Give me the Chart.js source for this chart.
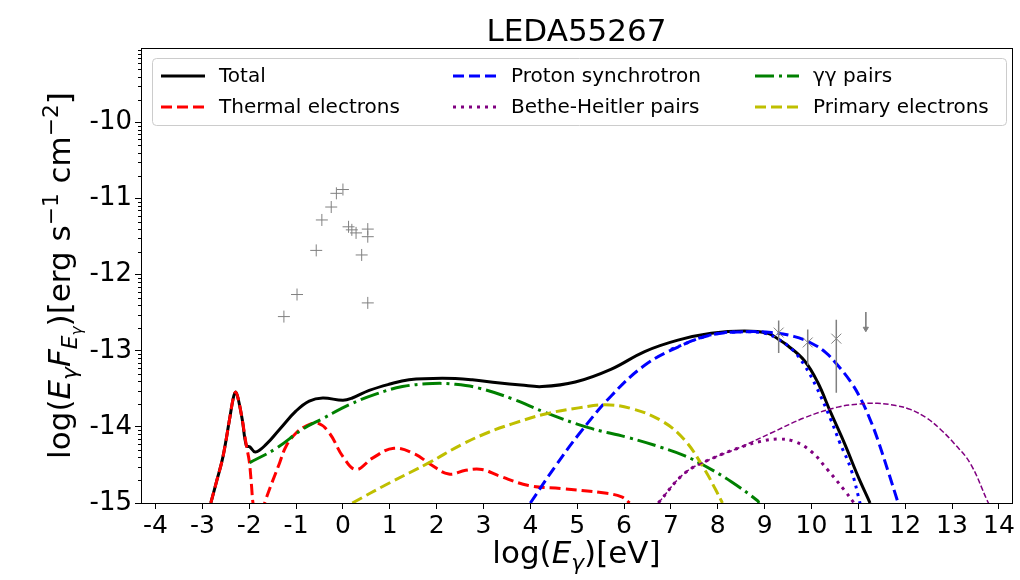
<!DOCTYPE html>
<html>
<head>
<meta charset="utf-8">
<script src="https://cdn.jsdelivr.net/npm/chart.js@4.4.1/dist/chart.umd.min.js"></script>
<style>
  html, body { margin: 0; padding: 0; background: #fff; }
  #wrap { width: 1020px; height: 580px; }
</style>
</head>
<body>
<div id="wrap"><canvas id="sed" width="1020" height="580"></canvas></div>
<script>
// axis ticks
const xTicks = [-4, -3, -2, -1, 0, 1, 2, 3, 4, 5, 6, 7, 8, 9, 10, 11, 12, 13, 14];
const yTicks = [-15, -14, -13, -12, -11, -10];

// model curves, [log E, log EF]
const total = [[-2.82,-15],[-2.69,-14.7],[-2.56,-14.39],[-2.42,-13.9],[-2.34,-13.62],[-2.29,-13.54],[-2.24,-13.62],[-2.15,-13.9],[-2.06,-14.25],[-1.99,-14.26],[-1.87,-14.33],[-1.64,-14.23],[-1.35,-14.03],[-1.0,-13.79],[-0.72,-13.66],[-0.43,-13.62],[0.0,-13.65],[0.2,-13.62],[0.56,-13.52],[0.98,-13.44],[1.41,-13.38],[2.12,-13.36],[2.76,-13.38],[3.3,-13.42],[3.8,-13.45],[4.25,-13.47],[4.96,-13.41],[5.73,-13.24],[6.44,-13.01],[7.15,-12.86],[7.86,-12.77],[8.57,-12.74],[9.07,-12.77],[9.3,-12.85],[9.49,-12.93],[9.85,-13.13],[10.13,-13.41],[10.41,-13.81],[10.70,-14.21],[10.98,-14.63],[11.25,-15.0]];
const thermal = [[-2.82,-15],[-2.69,-14.7],[-2.56,-14.39],[-2.42,-13.9],[-2.34,-13.62],[-2.29,-13.54],[-2.24,-13.62],[-2.15,-13.9],[-2.06,-14.25],[-2.0,-14.45],[-1.95,-14.78],[-1.92,-15.0],[-1.82,-15.35],[-1.67,-15.0],[-1.35,-14.47],[-1.21,-14.25],[-1.0,-14.08],[-0.79,-13.99],[-0.54,-13.95],[-0.29,-14.08],[0.0,-14.39],[0.28,-14.56],[0.63,-14.41],[1.09,-14.28],[1.55,-14.36],[1.84,-14.48],[2.26,-14.62],[2.62,-14.57],[2.97,-14.56],[3.32,-14.64],[3.96,-14.77],[4.67,-14.81],[5.59,-14.87],[5.95,-14.92],[6.12,-15.0]];
const protonSyn = [[4.0,-15],[4.53,-14.52],[5.03,-14.10],[5.73,-13.59],[6.44,-13.19],[7.15,-12.95],[7.86,-12.79],[8.57,-12.75],[9.14,-12.76],[9.62,-12.81],[10.0,-12.90],[10.3,-13.02],[10.56,-13.19],[10.84,-13.41],[11.05,-13.63],[11.25,-13.9],[11.41,-14.16],[11.65,-14.61],[11.85,-15.0]];
const protonSyn2 = [[7.0,-12.98],[7.86,-12.79],[8.57,-12.75],[9.0,-12.77],[9.3,-12.85],[9.6,-12.99],[9.85,-13.19],[10.1,-13.47],[10.41,-13.90],[10.6,-14.2],[10.84,-14.55],[11.02,-14.96],[11.05,-15.05]];
const bhPairs = [[6.73,-15],[7.29,-14.61],[7.86,-14.42],[8.57,-14.25],[8.92,-14.19],[9.28,-14.16],[9.63,-14.19],[9.99,-14.32],[10.34,-14.56],[10.70,-14.83],[10.91,-15.0]];
const bhPairs2 = [[6.73,-15],[7.29,-14.61],[7.86,-14.42],[8.43,-14.28],[9.14,-14.08],[9.85,-13.88],[10.56,-13.74],[11.0,-13.70],[11.41,-13.69],[11.8,-13.72],[12.11,-13.77],[12.45,-13.88],[12.75,-14.03],[13.05,-14.22],[13.39,-14.48],[13.76,-14.98],[13.78,-15.0]];
const ggPairs = [[-1.99,-14.47],[-1.42,-14.28],[-0.86,-14.03],[-0.43,-13.89],[0.13,-13.71],[0.70,-13.57],[1.27,-13.47],[1.91,-13.43],[2.40,-13.44],[2.90,-13.49],[3.61,-13.63],[4.32,-13.81],[5.24,-14.01],[6.09,-14.14],[6.80,-14.27],[7.3,-14.38],[7.72,-14.51],[8.29,-14.72],[8.85,-14.97],[8.88,-15.0]];
const primary = [[0.2,-15],[0.98,-14.74],[1.84,-14.47],[2.54,-14.23],[3.11,-14.07],[3.61,-13.96],[4.32,-13.83],[5.03,-13.75],[5.59,-13.71],[6.16,-13.76],[6.80,-13.92],[7.29,-14.17],[7.72,-14.56],[7.95,-14.82],[8.1,-15.0]];

// observed data
const obsX = [-1.26, -0.98, -0.57, -0.45, -0.25, -0.14, 0.0, 0.12, 0.19, 0.28, 0.53, 0.53, 0.40, 0.53];
const obsY = [-12.55, -12.26, -11.68, -11.28, -11.11, -10.93, -10.88, -11.37, -11.41, -11.45, -11.40, -11.50, -11.74, -12.37];
const gamX = [9.30, 9.92, 10.53];
const gamY = [-12.76, -12.89, -12.84];
const gamLo = [-13.03, -13.19, -13.55];
const gamHi = [-12.60, -12.72, -12.59];
const ulX = [11.16];
const ulTop = [-12.49];
const ulBot = [-12.71];

const FONT = "'DejaVu Sans', sans-serif";
const toXY = a => a.map(([x, y]) => ({ x, y }));

function curve(label, pts, color, width, dash) {
  return {
    label, data: toXY(pts), showLine: true, borderColor: color, borderWidth: width,
    borderDash: dash, pointRadius: 0, tension: 0.4, clip: 0, fill: false,
  };
}

const errData = [];
gamX.forEach((x, i) => { errData.push({ x, y: gamLo[i] }, { x, y: gamHi[i] }, { x, y: null }); });
const ulData = [];
ulX.forEach((x, i) => { ulData.push({ x, y: ulTop[i] }, { x, y: ulBot[i] }, { x, y: null }); });

const datasets = [
  curve('Total', total, '#000000', 3, []),
  curve('Thermal electrons', thermal, '#ff0000', 3, [11, 5]),
  curve('Proton synchrotron', protonSyn, '#0000ff', 3, [11, 5]),
  curve('Bethe-Heitler pairs', bhPairs, '#800080', 3, [3, 5]),
  curve('γγ pairs', ggPairs, '#008000', 3, [19, 5, 3, 5]),
  curve('Primary electrons', primary, '#bfbf00', 3, [11, 5]),
  curve('', protonSyn2, '#0000ff', 3, [3, 5]),
  curve('', bhPairs2, '#800080', 1.5, [5.5, 2.4]),
  { label: '', data: obsX.map((x, i) => ({ x, y: obsY[i] })), showLine: false,
    pointStyle: 'cross', pointRadius: 6, borderColor: '#808080', borderWidth: 1 },
  { label: '', data: gamX.map((x, i) => ({ x, y: gamY[i] })), showLine: false,
    pointStyle: 'crossRot', pointRadius: 7, borderColor: '#808080', borderWidth: 1 },
  { label: '', data: errData, showLine: true, spanGaps: false, pointRadius: 0,
    borderColor: '#808080', borderWidth: 1.5 },
  { label: '', data: ulData, showLine: true, spanGaps: false, borderColor: '#808080', borderWidth: 1,
    pointRadius: (c) => (c.dataIndex % 3 === 1 ? 3 : 0), pointStyle: 'triangle', rotation: 180,
    pointBackgroundColor: '#808080', pointBorderColor: '#808080' },
];
// later series are drawn over earlier ones, like the matplotlib plot order
datasets.forEach((d, i) => { d.order = 100 - i; });

// legend layout: column-major like matplotlib ncol=3
const legendOrder = [0, 1, 2, 3, 4, 5];
const legendCols = [161, 453, 755];
const legendRows = [77, 108];

function richText(ctx, runs, size, draw) {
  let x = 0;
  runs.forEach(r => {
    const s = size * (r.s || 1);
    ctx.font = (r.it ? 'italic ' : '') + s + 'px ' + FONT;
    if (draw) ctx.fillText(r.t, x, (r.dy || 0) * size);
    x += ctx.measureText(r.t).width;
  });
  return x;
}

const yTitle = [
  { t: 'log(' }, { t: 'E', it: 1 }, { t: 'γ', it: 1, s: 0.7, dy: 0.22 }, { t: 'F', it: 1 },
  { t: 'E', it: 1, s: 0.7, dy: 0.22 }, { t: 'γ', it: 1, s: 0.5, dy: 0.38 }, { t: ')[erg s' },
  { t: '−1', s: 0.7, dy: -0.4 }, { t: ' cm' }, { t: '−2', s: 0.7, dy: -0.4 }, { t: ']' },
];
const xTitle = [{ t: 'log(' }, { t: 'E', it: 1 }, { t: 'γ', it: 1, s: 0.7, dy: 0.22 }, { t: ')[eV]' }];

const decor = {
  id: 'decor',
  beforeDraw(chart) {
    const ctx = chart.ctx;
    ctx.save();
    ctx.fillStyle = '#fff';
    ctx.fillRect(0, 0, chart.width, chart.height);
    ctx.restore();
  },
  afterDraw(chart) {
    const ctx = chart.ctx;
    const a = chart.chartArea;
    const ys = chart.scales.y;
    ctx.save();
    // frame
    ctx.strokeStyle = '#000';
    ctx.lineWidth = 1;
    ctx.strokeRect(Math.round(a.left) + 0.5, Math.round(a.top) + 0.5,
      Math.round(a.right - a.left), Math.round(a.bottom - a.top));
    // minor ticks on y
    ctx.beginPath();
    for (let n = -15; n < -9; n++) {
      for (let k = 2; k <= 9; k++) {
        const v = n + Math.log10(k);
        if (v > ys.max) continue;
        const py = Math.round(ys.getPixelForValue(v)) + 0.5;
        ctx.moveTo(a.left - 3, py);
        ctx.lineTo(a.left, py);
      }
    }
    ctx.stroke();

    // legend
    ctx.beginPath();
    ctx.roundRect(152.5, 58.5, 854, 67, 4);
    ctx.fillStyle = 'rgba(255,255,255,0.8)';
    ctx.fill();
    ctx.strokeStyle = '#cccccc';
    ctx.stroke();
    legendOrder.forEach((di, i) => {
      const ds = chart.data.datasets[di];
      const cx = legendCols[Math.floor(i / 2)];
      const cy = legendRows[i % 2];
      ctx.beginPath();
      ctx.setLineDash(ds.borderDash || []);
      ctx.strokeStyle = ds.borderColor;
      ctx.lineWidth = ds.borderWidth;
      ctx.moveTo(cx, cy - 1);
      ctx.lineTo(cx + 44, cy - 1);
      ctx.stroke();
      ctx.setLineDash([]);
      ctx.fillStyle = '#000';
      ctx.font = '20px ' + FONT;
      ctx.textBaseline = 'middle';
      ctx.textAlign = 'left';
      ctx.fillText(ds.label, cx + 58, cy);
    });

    // title
    ctx.fillStyle = '#000';
    ctx.font = '31px ' + FONT;
    ctx.textAlign = 'center';
    ctx.textBaseline = 'middle';
    ctx.fillText('LEDA55267', (a.left + a.right) / 2, 33);

    // axis titles
    ctx.textAlign = 'left';
    ctx.textBaseline = 'alphabetic';
    const wx = richText(ctx, xTitle, 31, false);
    ctx.save();
    ctx.translate((a.left + a.right) / 2 - wx / 2, 563);
    richText(ctx, xTitle, 31, true);
    ctx.restore();
    const wy = richText(ctx, yTitle, 31, false);
    ctx.save();
    ctx.translate(70, (a.top + a.bottom) / 2 + wy / 2);
    ctx.rotate(-Math.PI / 2);
    richText(ctx, yTitle, 31, true);
    ctx.restore();
    ctx.restore();
  },
};

new Chart(document.getElementById('sed'), {
  type: 'scatter',
  data: { datasets },
  plugins: [decor],
  options: {
    responsive: false,
    animation: false,
    devicePixelRatio: 1,
    layout: { padding: { top: 48, right: 5, left: 0, bottom: 0 } },
    scales: {
      x: {
        type: 'linear', min: -4.31, max: 14.28,
        afterBuildTicks: (s) => { s.ticks = xTicks.map(v => ({ value: v })); },
        afterFit: (s) => { s.height = 77; },
        grid: { display: true, drawOnChartArea: false, drawTicks: true, tickLength: 6, color: '#000' },
        border: { display: true, color: '#000', width: 1 },
        ticks: { color: '#000', font: { family: FONT, size: 25 }, padding: 2, maxRotation: 0, autoSkip: false },
      },
      y: {
        type: 'linear', min: -15, max: -9.02,
        afterBuildTicks: (s) => { s.ticks = yTicks.map(v => ({ value: v })); },
        afterFit: (s) => { s.width = 141; },
        grid: { display: true, drawOnChartArea: false, drawTicks: true, tickLength: 6, color: '#000' },
        border: { display: true, color: '#000', width: 1 },
        ticks: { color: '#000', font: { family: FONT, size: 26 }, padding: 3, autoSkip: false },
      },
    },
    plugins: {
      legend: { display: false },
      title: { display: false },
      tooltip: { enabled: false },
    },
  },
});
</script>
</body>
</html>
